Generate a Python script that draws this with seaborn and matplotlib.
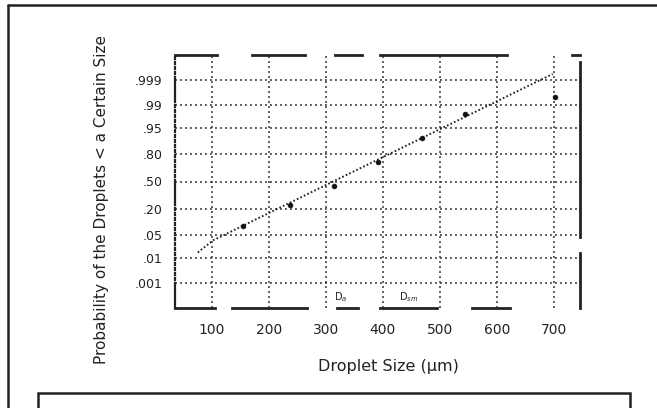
import numpy as np
import pandas as pd
import matplotlib
matplotlib.use("Agg")
import matplotlib.pyplot as plt
import matplotlib.transforms as mtransforms
from matplotlib.lines import Line2D
from matplotlib.patches import Rectangle
import seaborn as sns
from statistics import NormalDist

# ---- data ----
drop_size = [154, 237, 314, 391, 468, 544, 702]
cum_prob = [0.089, 0.24, 0.45, 0.72, 0.91, 0.98, 0.995]
fit_size = [75, 102, 698]
fit_prob = [0.015, 0.036, 0.9995]
x_ticks = [100, 200, 300, 400, 500, 600, 700]
x_tick_labels = ["100", "200", "300", "400", "500", "600", "700"]
y_ticks = [0.001, 0.01, 0.05, 0.20, 0.50, 0.80, 0.95, 0.99, 0.999]
y_tick_labels = [".001", ".01", ".05", ".20", ".50", ".80", ".95", ".99", ".999"]

sns.set_theme(style="white")
plt.rcParams["font.family"] = ["DejaVu Sans"]
plt.rcParams["lines.scale_dashes"] = False

_nd = NormalDist()
_ppf = np.vectorize(_nd.inv_cdf, otypes=[float])
_cdf = np.vectorize(_nd.cdf, otypes=[float])


def fwd(p):
    p = np.clip(np.asarray(p, dtype=float), 1e-12, 1 - 1e-12)
    return _ppf(p)


def inv(z):
    return _cdf(np.asarray(z, dtype=float))


W, H = 657, 408
fig = plt.figure(figsize=(W / 100, H / 100), dpi=100)
L, R, T, B = 175, 580, 55, 308
ax = fig.add_axes([L / W, 1 - B / H, (R - L) / W, (B - T) / H])
ax.set_yscale("function", functions=(fwd, inv))

pts = pd.DataFrame({"size": drop_size, "prob": cum_prob})
fit = pd.DataFrame({"size": fit_size, "prob": fit_prob})

sns.lineplot(data=fit, x="size", y="prob", ax=ax, color="#222222",
             linestyle=(0, (1.2, 1.6)), linewidth=1.4, sort=False, zorder=3)
sns.scatterplot(data=pts, x="size", y="prob", ax=ax, color="#111111",
                s=12, edgecolor="#111111", linewidth=0.5, zorder=4)

ax.set_xlim(35, 746)
ax.set_ylim(inv(-3.87), inv(3.87))
ax.set_xticks(x_ticks)
ax.set_xticklabels(x_tick_labels)
ax.set_yticks(y_ticks)
ax.set_yticklabels(y_tick_labels)
ax.minorticks_off()

ax.grid(True, color="#333333", linestyle=(0, (1.4, 2.2)), linewidth=1.1)
ax.tick_params(axis="both", colors="#222222",
               direction="inout", length=8, width=1.2)
ax.tick_params(axis="x", labelsize=10, pad=7)
ax.tick_params(axis="y", labelsize=9, pad=5)

ax.set_xlabel("Droplet Size (\u03bcm)", fontsize=11.5, color="#222222")
ax.set_ylabel("Probability of the Droplets < a Certain Size", fontsize=11,
              color="#222222")
ax.xaxis.set_label_coords((388 - L) / (R - L), (B - 359) / (B - T))
ax.yaxis.set_label_coords((109 - L) / (R - L), (B - 199) / (B - T))

px = 0.72  # pixel -> point at 100 dpi


def pattern(seq):
    return (0, tuple(v * px for v in seq))


for name, seq, lw in [
    ("top", [42, 35, 53, 30, 27, 18, 127, 65, 8], 2.0),
    ("bottom", [40, 17, 75, 30, 21, 22, 57, 35, 38, 70], 2.0),
    ("right", [55, 16, 175, 7], 2.0),
    ("left", [25] + [3, 2] * 29 + [2, 70, 13], 1.6),
]:
    sp = ax.spines[name]
    sp.set_visible(True)
    sp.set_color("#222222")
    sp.set_linewidth(lw)
    sp.set_linestyle(pattern(seq))

blend = mtransforms.blended_transform_factory(ax.transData, ax.transAxes)
ax.text(325, 0.015, "D$_a$", transform=blend, fontsize=7, ha="center",
        va="bottom", color="#222222")
ax.text(445, 0.015, "D$_{sm}$", transform=blend, fontsize=7, ha="center",
        va="bottom", color="#222222")

# outer frame (top and left visible) and empty caption box
fig.add_artist(Line2D([8 / W, 8 / W], [0, 1 - 5 / H], transform=fig.transFigure,
                      color="#222222", linewidth=1.8))
fig.add_artist(Line2D([8 / W, 1], [1 - 5 / H, 1 - 5 / H], transform=fig.transFigure,
                      color="#222222", linewidth=1.8))
fig.add_artist(Rectangle((38 / W, -0.1), (630 - 38) / W, 0.1 + (H - 393) / H,
                         transform=fig.transFigure, fill=False,
                         edgecolor="#222222", linewidth=1.8))

fig.savefig("out.png", dpi=100, facecolor="white")
